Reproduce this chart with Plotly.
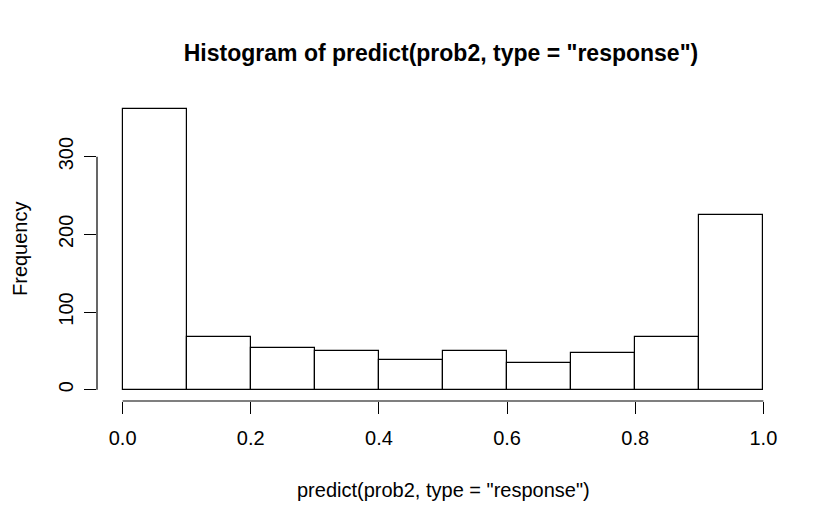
import plotly.graph_objects as go

bin_starts = [0.0, 0.1, 0.2, 0.3, 0.4, 0.5, 0.6, 0.7, 0.8, 0.9]
counts = [361, 68, 54, 50, 38, 50, 34, 47, 68, 225]
x_ticks = [0.0, 0.2, 0.4, 0.6, 0.8, 1.0]
x_tick_labels = ["0.0", "0.2", "0.4", "0.6", "0.8", "1.0"]
y_ticks = [0, 100, 200, 300]
y_tick_labels = ["0", "100", "200", "300"]
bin_width = 0.1

FONT = "Liberation Sans, Arial, sans-serif"
OFF = 8  # page body margin offset

W, H = 839, 524
L, T = 97 - OFF, 98 - OFF
PW, PH = 692, 303
R = W - L - PW
B = H - T - PH

fig = go.Figure()
fig.add_trace(go.Bar(
    x=[b + bin_width / 2 for b in bin_starts],
    y=counts,
    width=[bin_width] * len(counts),
    marker=dict(color="white", line=dict(color="black", width=1.2)),
    showlegend=False,
))

ymax = max(counts)
fig.update_layout(
    width=W, height=H,
    paper_bgcolor="white", plot_bgcolor="white",
    margin=dict(l=L, r=R, t=T, b=B),
    font=dict(family=FONT, size=20, color="black"),
    bargap=0,
    title=dict(text='<b>Histogram of predict(prob2, type = "response")</b>',
               x=(441 - 97) / PW, xanchor="center", y=1 - (53 - OFF) / H, yanchor="middle",
               xref="paper",
               font=dict(family=FONT, size=23, color="black")),
    xaxis=dict(range=[-0.04, 1.04], showgrid=False, zeroline=False, showline=False,
               tickvals=x_ticks, ticktext=x_tick_labels, ticks="outside",
               ticklen=12, tickwidth=1.2, tickcolor="black",
               ticklabelstandoff=7, tickfont=dict(size=20)),
    yaxis=dict(range=[-0.04 * ymax, 1.04 * ymax], showgrid=False, zeroline=False,
               showline=False, tickvals=y_ticks, ticktext=y_tick_labels,
               ticks="outside", ticklen=12, tickwidth=1.2, tickcolor="black",
               tickangle=-90, ticklabelstandoff=3, tickfont=dict(size=20)),
    shapes=[
        dict(type="line", xref="x", yref="paper", x0=x_ticks[0], x1=x_ticks[-1],
             y0=0, y1=0, line=dict(color="black", width=1.2)),
        dict(type="line", xref="paper", yref="y", x0=0, x1=0,
             y0=y_ticks[0], y1=y_ticks[-1], line=dict(color="black", width=1.2)),
    ],
    annotations=[
        dict(text='predict(prob2, type = "response")', xref="paper", yref="paper",
             x=0.5, y=-(490 - 401) / PH, xanchor="center", yanchor="middle",
             showarrow=False, font=dict(size=20)),
        dict(text="Frequency", xref="paper", yref="paper",
             x=-(97 - 20) / PW, y=(401 - 249) / PH, xanchor="center", yanchor="middle",
             textangle=-90, showarrow=False, font=dict(size=20)),
    ],
)

fig.write_html("out.html")
